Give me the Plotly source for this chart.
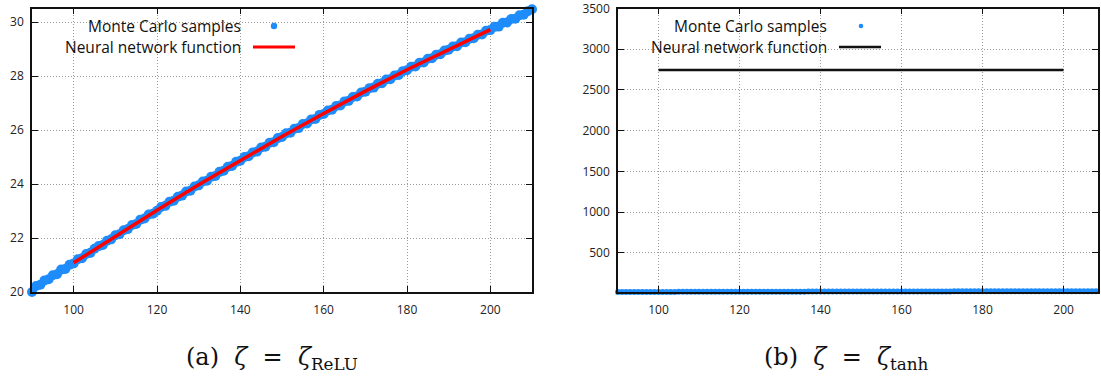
import plotly.graph_objects as go

W, H = 1101, 379

# ---------------- data ----------------
mc_x = list(range(90, 211))
mc_y = [
    20.00, 20.22, 20.27, 20.43, 20.47, 20.62, 20.66, 20.83, 20.85, 21.01,
    21.06, 21.21, 21.25, 21.41, 21.45, 21.60, 21.70, 21.74, 21.90, 21.95,
    22.10, 22.14, 22.29, 22.33, 22.48, 22.52, 22.68, 22.72, 22.87, 22.90,
    23.01, 23.15, 23.19, 23.34, 23.38, 23.53, 23.57, 23.72, 23.75, 23.91,
    23.95, 24.09, 24.12, 24.27, 24.30, 24.45, 24.49, 24.64, 24.67, 24.82,
    24.86, 25.00, 25.03, 25.17, 25.20, 25.35, 25.38, 25.53, 25.55, 25.70,
    25.74, 25.88, 25.90, 26.05, 26.07, 26.22, 26.24, 26.39, 26.41, 26.56,
    26.59, 26.72, 26.75, 26.89, 26.91, 27.06, 27.08, 27.22, 27.24, 27.39,
    27.42, 27.55, 27.57, 27.71, 27.73, 27.87, 27.88, 28.02, 28.04, 28.18,
    28.21, 28.34, 28.35, 28.49, 28.50, 28.64, 28.66, 28.79, 28.81, 28.94,
    28.97, 29.09, 29.10, 29.24, 29.25, 29.38, 29.40, 29.53, 29.54, 29.68,
    29.70, 29.82, 29.83, 29.97, 29.98, 30.11, 30.12, 30.25, 30.27, 30.40,
    30.47,
]
nn_x = [100, 110, 120, 130, 140, 150, 160, 170, 180, 190, 200]
nn_relu_y = [21.08, 22.07, 23.03, 23.97, 24.88, 25.76, 26.61, 27.44, 28.23, 28.99, 29.72]
nn_tanh_y = [2745, 2745, 2745, 2745, 2745, 2745, 2745, 2745, 2745, 2745, 2745]

left_xticks = [100, 120, 140, 160, 180, 200]
left_yticks = [20, 22, 24, 26, 28, 30]
right_xticks = [100, 120, 140, 160, 180, 200]
right_yticks = [500, 1000, 1500, 2000, 2500, 3000, 3500]

legend_labels = ["Monte Carlo samples", "Neural network function"]
captions = ["(a)  <i>ζ</i>  =  <i>ζ</i><sub>ReLU</sub>", "(b)  <i>ζ</i>  =  <i>ζ</i><sub>tanh</sub>"]

BLUE = "#1E8CFA"
TICKFONT = dict(family="Open Sans", size=12, color="#222")


def px(x):
    return x / W


def py(y):
    return 1 - y / H


fig = go.Figure()

# left panel
fig.add_trace(go.Scatter(x=mc_x, y=mc_y, mode="markers",
                         marker=dict(color=BLUE, size=10, line=dict(width=0)),
                         cliponaxis=False, xaxis="x", yaxis="y", showlegend=False))
fig.add_trace(go.Scatter(x=nn_x, y=nn_relu_y, mode="lines",
                         line=dict(color="#ff0000", width=3.5),
                         xaxis="x", yaxis="y", showlegend=False))
# right panel
fig.add_trace(go.Scatter(x=mc_x, y=mc_y, mode="markers",
                         marker=dict(color=BLUE, size=6, line=dict(width=0)),
                         cliponaxis=False, xaxis="x2", yaxis="y2", showlegend=False))
fig.add_trace(go.Scatter(x=nn_x, y=nn_tanh_y, mode="lines",
                         line=dict(color="#111111", width=2.5),
                         xaxis="x2", yaxis="y2", showlegend=False))

axis_common = dict(
    showline=True, linecolor="#111", linewidth=1.5, mirror="ticks",
    ticks="inside", ticklen=6, tickwidth=1.2, tickcolor="#111",
    showgrid=True, gridcolor="#9a9a9a", griddash="1px,2px", gridwidth=1,
    zeroline=False, tickfont=TICKFONT, automargin=False, ticklabeloverflow="allow",
)

ydom = [py(292), py(8.5)]
fig.update_layout(
    width=W, height=H, margin=dict(l=0, r=0, t=0, b=0, autoexpand=False),
    paper_bgcolor="white", plot_bgcolor="white", showlegend=False,
    xaxis=dict(domain=[px(32), px(532)], range=[90, 210], tickvals=left_xticks,
               anchor="y", ticklabelstandoff=6, **axis_common),
    yaxis=dict(domain=ydom, range=[20, 30.5], tickvals=left_yticks,
               anchor="x", ticklabelstandoff=4, **axis_common),
    xaxis2=dict(domain=[px(618), px(1098)], range=[90, 208.5], tickvals=right_xticks,
                anchor="y2", ticklabelstandoff=6, **axis_common),
    yaxis2=dict(domain=ydom, range=[20, 3500.5], tickvals=right_yticks,
                anchor="x2", ticklabelstandoff=4, **axis_common),
)

# gnuplot-style legends (text on the left, key on the right)
LEGFONT = dict(family="Open Sans", size=15.5, color="#111")
shapes = []
annotations = []
for (txt_right, dot_x, dot_r, line_x0, line_x1, lcol, lw) in [
    (243, 274, 3.2, 253, 295, "#ff0000", 3),
    (829, 861, 2.3, 839, 881, "#111111", 2.5),
]:
    annotations.append(dict(x=px(txt_right), y=py(26), xref="paper", yref="paper",
                            text=legend_labels[0], showarrow=False, xanchor="right",
                            yanchor="middle", font=LEGFONT))
    annotations.append(dict(x=px(txt_right), y=py(47), xref="paper", yref="paper",
                            text=legend_labels[1], showarrow=False, xanchor="right",
                            yanchor="middle", font=LEGFONT))
    shapes.append(dict(type="circle", xref="paper", yref="paper",
                       x0=px(dot_x - dot_r), x1=px(dot_x + dot_r),
                       y0=py(26 + dot_r), y1=py(26 - dot_r),
                       fillcolor=BLUE, line=dict(width=0)))
    shapes.append(dict(type="line", xref="paper", yref="paper",
                       x0=px(line_x0), x1=px(line_x1), y0=py(47), y1=py(47),
                       line=dict(color=lcol, width=lw)))

CAPFONT = dict(family="DejaVu Serif", size=24, color="#111")
annotations.append(dict(x=px(272), y=py(358), xref="paper", yref="paper", text=captions[0],
                        showarrow=False, xanchor="center", yanchor="middle", font=CAPFONT))
annotations.append(dict(x=px(846), y=py(358), xref="paper", yref="paper", text=captions[1],
                        showarrow=False, xanchor="center", yanchor="middle", font=CAPFONT))

fig.update_layout(shapes=shapes, annotations=annotations)

fig.write_html("out.html")
